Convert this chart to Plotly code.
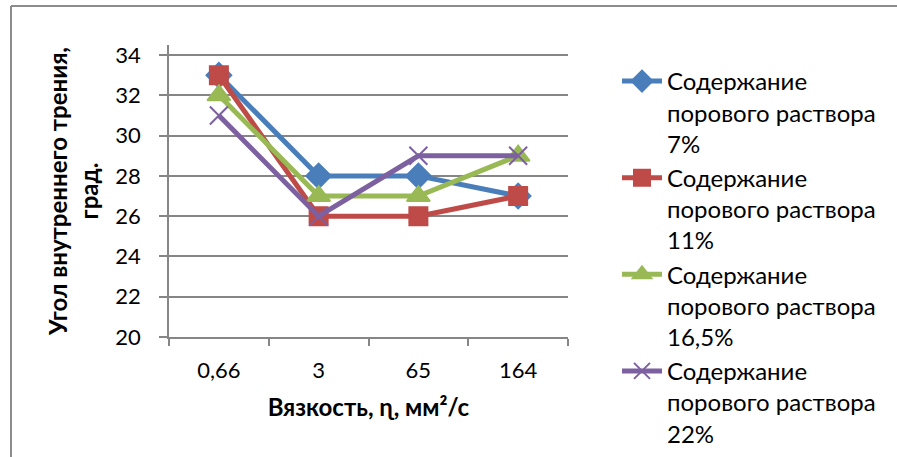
import plotly.graph_objects as go

categories = ["0,66", "3", "65", "164"]
s7 = [33, 28, 28, 27]
s11 = [33, 26, 26, 27]
s165 = [32, 27, 27, 29]
s22 = [31, 26, 29, 29]
names = [
    "Содержание<br>порового раствора<br>7%",
    "Содержание<br>порового раствора<br>11%",
    "Содержание<br>порового раствора<br>16,5%",
    "Содержание<br>порового раствора<br>22%",
]
yticks = [20, 22, 24, 26, 28, 30, 32, 34]

FONT = "Lato"
fig = go.Figure()
styles = [
    ("#4A7EBB", "diamond", 19, s7),
    ("#BE4B48", "square", 18, s11),
    ("#98B954", "triangle-up", 20, s165),
    ("#7D60A0", "x-thin", 18, s22),
]
for i, (col, sym, size, vals) in enumerate(styles):
    fig.add_trace(go.Scatter(
        x=categories, y=vals, name=names[i], mode="lines+markers",
        legendgroup=f"g{i}",
        line=dict(color=col, width=5),
        marker=dict(symbol=sym, size=size, color=col,
                    line=dict(color=col, width=2)),
    ))

W, H = 897, 457
L, R, T, B = 169, 329, 45, 120
pw = W - L - R
ph = H - T - B

def px_x(p):
    return (p - L) / pw

def px_y(p):
    return (H - B - p) / ph

fig.update_layout(
    width=W, height=H,
    margin=dict(l=L, r=R, t=T, b=B, autoexpand=False),
    paper_bgcolor="white", plot_bgcolor="white",
    font=dict(family=FONT, size=22, color="#000000"),
    showlegend=True,
    legend=dict(x=px_x(617), y=px_y(59), xanchor="left", yanchor="top",
                font=dict(family=FONT, size=24), tracegroupgap=0,
                itemwidth=40, valign="top", maxheight=456,
                bgcolor="rgba(0,0,0,0)"),
    xaxis=dict(type="category", range=[-0.5, 3.5], tickson="boundaries",
               ticks="outside", ticklen=7, tickcolor="#868686", tickwidth=1.5,
               showline=True, linecolor="#868686", linewidth=1.5,
               showgrid=False, tickfont=dict(size=22), ticklabelstandoff=13,
               title=dict(text="<b>Вязкость, ɳ, мм²/с</b>", font=dict(size=24), standoff=17)),
    yaxis=dict(range=[20, 34.5], tickvals=yticks, ticktext=[str(v) for v in yticks],
               ticks="outside", ticklen=8, tickcolor="#868686", tickwidth=1.5,
               showline=True, linecolor="#868686", linewidth=1.5,
               showgrid=True, gridcolor="#868686", gridwidth=1.5,
               zeroline=False, tickfont=dict(size=22), ticklabelstandoff=14,
               title=dict(text="<b>Угол внутреннего трения,<br>град.</b>", font=dict(size=24), standoff=10)),
)

# outer chart border (top and left edges)
fig.add_shape(type="line", xref="paper", yref="paper",
              x0=px_x(11), x1=px_x(897), y0=px_y(6), y1=px_y(6),
              line=dict(color="#8C8C8C", width=2))
fig.add_shape(type="line", xref="paper", yref="paper",
              x0=px_x(11), x1=px_x(11), y0=px_y(6), y1=px_y(457),
              line=dict(color="#8C8C8C", width=2))

fig.write_html("out.html")
